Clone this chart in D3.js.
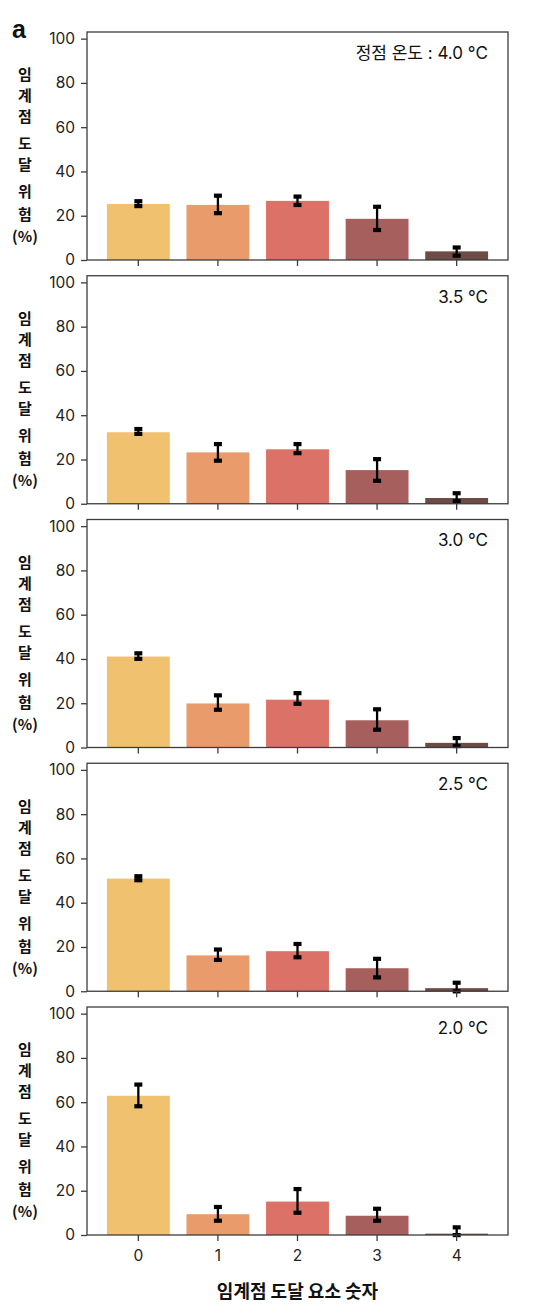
<!DOCTYPE html>
<html><head><meta charset="utf-8">
<script src="https://cdn.jsdelivr.net/npm/d3@7"></script>
<style>body{margin:0;background:#fff}svg{display:block}</style>
</head><body>
<svg id="c" width="560" height="1305"></svg>
<script>
const categories = ["0","1","2","3","4"];
const panelLabels = ["정점 온도 : 4.0 °C","3.5 °C","3.0 °C","2.5 °C","2.0 °C"];
const yTicks = [0,20,40,60,80,100];
const barColors = ["#F0C16E","#E99B6B","#DC7167","#A65F5D","#6C4C44"];

const risk40 = [25.3, 24.9, 26.7, 18.6, 3.9];
const low40  = [24.4, 21.2, 24.9, 13.6, 2.0];
const high40 = [26.6, 29.1, 28.7, 24.1, 5.7];

const risk35 = [32.3, 23.2, 24.6, 15.2, 2.6];
const low35  = [31.6, 19.5, 22.9, 10.4, 1.2];
const high35 = [33.8, 27.0, 27.0, 20.2, 4.8];

const risk30 = [41.1, 19.9, 21.6, 12.3, 2.1];
const low30  = [40.1, 17.1, 19.8, 8.1, 0.7];
const high30 = [42.6, 23.6, 24.6, 17.3, 4.3];

const risk25 = [50.9, 16.2, 18.1, 10.4, 1.4];
const low25  = [50.2, 14.2, 15.4, 6.3, 0.0];
const high25 = [52.0, 18.9, 21.4, 14.7, 3.9];

const risk20 = [62.9, 9.4, 15.1, 8.7, 0.6];
const low20  = [58.2, 6.5, 10.1, 6.5, 0.0];
const high20 = [68.0, 12.7, 20.8, 11.9, 3.5];

const panels = [
  {label: panelLabels[0], v: risk40, lo: low40, hi: high40},
  {label: panelLabels[1], v: risk35, lo: low35, hi: high35},
  {label: panelLabels[2], v: risk30, lo: low30, hi: high30},
  {label: panelLabels[3], v: risk25, lo: low25, hi: high25},
  {label: panelLabels[4], v: risk20, lo: low20, hi: high20}
];

const svg = d3.select("#c");
const left = 87, right = 508, ph = 228, firstTop = 32, stepY = 243.75;
const axisColor = "#3c3c3c";
const numFont = "Inter, 'Noto Sans CJK KR', sans-serif";
const krFont = "'Noto Sans CJK KR', sans-serif";

const x = d3.scaleBand().domain(categories).range([left, right]).paddingInner(0.21).paddingOuter(0.25);

svg.append("text").attr("x", 12).attr("y", 38).text("a")
  .attr("font-family", "'Liberation Sans', Arial, sans-serif").attr("font-weight", "bold").attr("font-size", 25).attr("fill", "#111");

const ylabChars = [["임",43],["계",64],["점",85],["도",112],["달",133],["위",160],["험",183],["(%)",205]];

panels.forEach((p, i) => {
  const top = firstTop + i * stepY;
  const bottom = top + ph;
  const y = d3.scaleLinear().domain([0, 103]).range([bottom, top]);
  const g = svg.append("g");

  g.selectAll("rect.bar").data(categories).enter().append("rect")
    .attr("x", d => x(d)).attr("width", x.bandwidth())
    .attr("y", (d, j) => y(p.v[j])).attr("height", (d, j) => y(0) - y(p.v[j]))
    .attr("fill", (d, j) => barColors[j]);

  // error bars
  const eg = g.selectAll("g.err").data(categories).enter().append("g");
  eg.append("line")
    .attr("x1", d => x(d) + x.bandwidth()/2).attr("x2", d => x(d) + x.bandwidth()/2)
    .attr("y1", (d, j) => y(p.lo[j])).attr("y2", (d, j) => y(p.hi[j]))
    .attr("stroke", "#000").attr("stroke-width", 2.3);
  eg.append("rect")
    .attr("x", d => x(d) + x.bandwidth()/2 - 4).attr("width", 8)
    .attr("y", (d, j) => y(p.hi[j]) - 2).attr("height", 4.2).attr("fill", "#000");
  eg.append("rect")
    .attr("x", d => x(d) + x.bandwidth()/2 - 4).attr("width", 8)
    .attr("y", (d, j) => y(p.lo[j]) - 2).attr("height", 4.2).attr("fill", "#000");

  // axes
  const ya = g.append("g").attr("transform", `translate(${left},0)`)
    .call(d3.axisLeft(y).tickValues(yTicks).tickSize(6).tickPadding(6));
  ya.select(".domain").remove();
  ya.selectAll("line").attr("stroke", axisColor).attr("stroke-width", 1.3);
  ya.selectAll("text").attr("font-family", numFont).attr("font-size", 15.5).attr("fill", "#222");

  const xa = g.append("g").attr("transform", `translate(0,${bottom})`)
    .call(d3.axisBottom(x).tickSize(6).tickPadding(9).tickFormat(i === 4 ? (d => d) : () => ""));
  xa.select(".domain").remove();
  xa.selectAll("line").attr("stroke", axisColor).attr("stroke-width", 1.3);
  xa.selectAll("text").attr("font-family", numFont).attr("font-size", 15.5).attr("fill", "#222");

  g.append("rect").attr("x", left).attr("y", top).attr("width", right - left).attr("height", ph)
    .attr("fill", "none").attr("stroke", axisColor).attr("stroke-width", 1.3);

  g.append("text").attr("x", 488).attr("y", top + 21).attr("dy", "0.35em")
    .attr("text-anchor", "end").attr("font-family", numFont).attr("font-size", 17).attr("fill", "#111")
    .text(p.label);

  ylabChars.forEach(([ch, dy]) => {
    g.append("text").attr("x", 25).attr("y", top + dy).attr("dy", "0.35em")
      .attr("text-anchor", "middle").attr("font-family", krFont).attr("font-weight", "bold")
      .attr("font-size", 15).attr("fill", "#111").text(ch);
  });
});

svg.append("text").attr("x", (left + right) / 2).attr("y", 1292).attr("dy", "0.35em")
  .attr("text-anchor", "middle").attr("font-family", krFont).attr("font-weight", "bold")
  .attr("font-size", 18).attr("fill", "#111").text("임계점 도달 요소 숫자");
</script>
</body></html>
